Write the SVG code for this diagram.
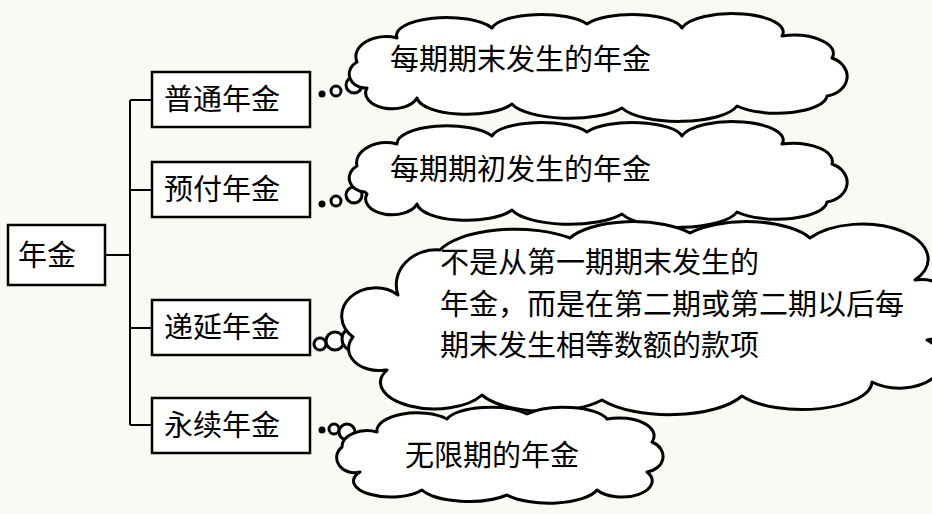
<svg xmlns="http://www.w3.org/2000/svg" width="932" height="514" viewBox="0 0 932 514">
<style>
.b{fill:#fff;stroke:#000;stroke-width:2.5}
.c{fill:#fff;stroke:#000;stroke-width:3;stroke-linejoin:round}
.l{fill:none;stroke:#000;stroke-width:2}
text{font-family:"Noto Sans CJK SC",sans-serif;font-size:29px;fill:#000}
.bu{fill:#fff;stroke:#000;stroke-width:3}
</style>
<rect width="932" height="514" fill="#fafaf5"/>
<g id="connectors">
<path class="l" d="M105,255H130M130,100V425M130,100H152M130,190H152M130,328H152M130,425H152"/>
<circle cx="322" cy="94" r="3.5" fill="#000"/><circle class="bu" cx="336" cy="91" r="5"/><circle class="bu" cx="354" cy="85" r="8"/>
<circle cx="322" cy="204" r="3.5" fill="#000"/><circle class="bu" cx="336" cy="201" r="5"/><circle class="bu" cx="354" cy="195" r="8"/>
<circle class="bu" cx="320" cy="344" r="6"/><circle class="bu" cx="335" cy="341" r="9"/><circle class="bu" cx="354" cy="339" r="12"/>
<circle cx="322" cy="430" r="3.5" fill="#000"/><circle class="bu" cx="334" cy="429" r="5"/><circle class="bu" cx="347" cy="432" r="8"/>
</g>
<g id="root"><rect class="b" x="8" y="225" width="97" height="60"/><text x="18" y="266">年金</text></g>
<g id="n1"><rect class="b" x="152" y="72" width="158" height="55"/><text x="164" y="110">普通年金</text></g>
<g id="n2"><rect class="b" x="152" y="162" width="158" height="55"/><text x="164" y="200">预付年金</text></g>
<g id="n3"><rect class="b" x="152" y="300" width="158" height="55"/><text x="164" y="338">递延年金</text></g>
<g id="n4"><rect class="b" x="152" y="398" width="158" height="55"/><text x="164" y="436">永续年金</text></g>
<g id="cloud1">
<path class="c" transform="translate(0,8)" d="M365,80 a16,14 0 0,1 -8,-26 a30,20 0 0,1 40,-24 a50,18 0 0,1 95,-10 a50,16 0 0,1 95,-4 a50,16 0 0,1 95,4 a50,18 0 0,1 100,8 a40,18 0 0,1 50,22 a25,20 0 0,1 -5,38 a50,18 0 0,1 -90,10 a60,20 0 0,1 -115,2 a60,20 0 0,1 -110,-4 a50,18 0 0,1 -95,-6 a20,12 0 0,1 -50,-10 Z"/>
<text x="390" y="70">每期期末发生的年金</text></g>
<g id="cloud2">
<path class="c" transform="translate(0,2)" d="M365,190 a16,14 0 0,1 -8,-26 a30,20 0 0,1 40,-22 a50,18 0 0,1 95,-8 a50,16 0 0,1 95,-4 a50,16 0 0,1 95,4 a50,18 0 0,1 100,8 a40,18 0 0,1 50,20 a25,20 0 0,1 -5,38 a50,18 0 0,1 -90,10 a60,20 0 0,1 -115,2 a60,20 0 0,1 -110,-4 a50,18 0 0,1 -95,-6 a20,12 0 0,1 -50,-10 Z"/>
<text x="390" y="180">每期期初发生的年金</text></g>
<g id="cloud3">
<path class="c" d="M385,370 a30,22 0 0,1 -32,-33 a30,25 0 0,1 45,-42 a40,35 0 0,1 42,-45 a80,32 0 0,1 130,-12 a70,28 0 0,1 120,-5 a70,28 0 0,1 120,5 a60,32 0 0,1 105,42 a35,28 0 0,1 12,60 a40,25 0 0,1 -55,42 a70,28 0 0,1 -130,14 a80,32 0 0,1 -140,4 a70,28 0 0,1 -120,-5 a45,22 0 0,1 -95,-25 Z"/>
<text x="440" y="273">不是从第一期期末发生的</text>
<text x="440" y="315">年金，而是在第二期或第二期以后每</text>
<text x="440" y="356">期末发生相等数额的款项</text></g>
<g id="cloud4">
<path class="c" d="M360,472 a18,15 0 0,1 -18,-25 a25,16 0 0,1 35,-15 a40,18 0 0,1 70,-13 a45,16 0 0,1 80,-5 a45,16 0 0,1 80,5 a35,18 0 0,1 45,23 a20,16 0 0,1 -5,30 a30,16 0 0,1 -50,18 a50,18 0 0,1 -90,5 a50,18 0 0,1 -85,-5 a35,15 0 0,1 -62,-18 Z"/>
<text x="405" y="466">无限期的年金</text></g>
</svg>
